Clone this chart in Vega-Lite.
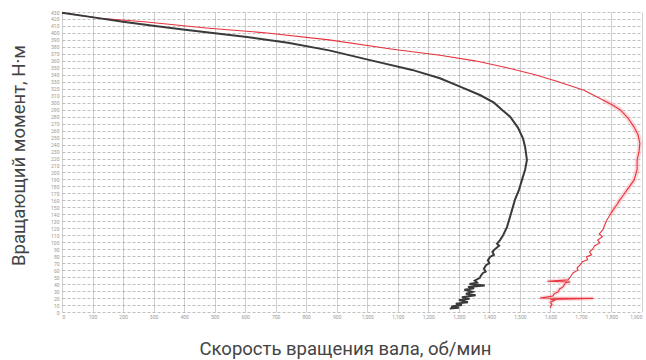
{
  "$schema": "https://vega.github.io/schema/vega-lite/v6.json",
  "width": 580,
  "height": 300,
  "autosize": "none",
  "padding": {"left": 62, "top": 12, "right": 4, "bottom": 48},
  "background": "white",
  "config": {"view": {"stroke": null}, "font": "Roboto"},
  "datasets": {
    "black": [
      {"i":1,"v":0,"t":429},{"i":2,"v":92,"t":423},{"i":3,"v":200,"t":416},{"i":4,"v":305,"t":410},{"i":5,"v":403,"t":404.5},
      {"i":6,"v":501,"t":399.5},{"i":7,"v":606,"t":394},{"i":8,"v":740,"t":386},{"i":9,"v":875,"t":375},{"i":10,"v":1009,"t":361},
      {"i":11,"v":1147,"t":347},{"i":12,"v":1238,"t":335},{"i":13,"v":1304,"t":323},{"i":14,"v":1369,"t":311},{"i":15,"v":1415,"t":300},
      {"i":16,"v":1441,"t":290},{"i":17,"v":1468,"t":280},{"i":18,"v":1494,"t":264},{"i":19,"v":1510,"t":249},{"i":20,"v":1517,"t":237},
      {"i":21,"v":1523,"t":218},{"i":22,"v":1517,"t":204},{"i":23,"v":1510,"t":194},{"i":24,"v":1497,"t":175},{"i":25,"v":1484,"t":161},
      {"i":26,"v":1474,"t":146},{"i":27,"v":1458,"t":122},{"i":28,"v":1445,"t":110},{"i":29,"v":1435,"t":103},{"i":30,"v":1425,"t":98},
      {"i":31,"v":1432,"t":95},{"i":32,"v":1418,"t":90},{"i":33,"v":1410,"t":86},{"i":34,"v":1415,"t":82},{"i":35,"v":1402,"t":79},
      {"i":36,"v":1395,"t":74},{"i":37,"v":1400,"t":70},{"i":38,"v":1389,"t":67},{"i":39,"v":1382,"t":62},{"i":40,"v":1388,"t":58},
      {"i":41,"v":1379,"t":56},{"i":42,"v":1372,"t":52},{"i":43,"v":1369,"t":49},{"i":44,"v":1352,"t":45},{"i":45,"v":1360,"t":42},
      {"i":46,"v":1335,"t":40},{"i":47,"v":1385,"t":38},{"i":48,"v":1330,"t":36},{"i":49,"v":1350,"t":34},{"i":50,"v":1318,"t":32},
      {"i":51,"v":1345,"t":29},{"i":52,"v":1323,"t":26},{"i":53,"v":1355,"t":24},{"i":54,"v":1310,"t":21},{"i":55,"v":1335,"t":19},
      {"i":56,"v":1300,"t":17},{"i":57,"v":1330,"t":14},{"i":58,"v":1290,"t":12},{"i":59,"v":1310,"t":10},{"i":60,"v":1275,"t":8},
      {"i":61,"v":1300,"t":6},{"i":62,"v":1270,"t":5}
    ],
    "red": [
      {"i":1,"v":0,"t":429},{"i":2,"v":124,"t":421},{"i":3,"v":269,"t":416},{"i":4,"v":472,"t":407},{"i":5,"v":672,"t":400},
      {"i":6,"v":875,"t":390},{"i":7,"v":1078,"t":377},{"i":8,"v":1238,"t":368},{"i":9,"v":1353,"t":360},{"i":10,"v":1458,"t":350},
      {"i":11,"v":1550,"t":340},{"i":12,"v":1618,"t":331},{"i":13,"v":1710,"t":318},{"i":14,"v":1772,"t":304},{"i":15,"v":1802,"t":297},
      {"i":16,"v":1828,"t":290},{"i":17,"v":1854,"t":278},{"i":18,"v":1874,"t":265},{"i":19,"v":1887,"t":254},{"i":20,"v":1893,"t":242},
      {"i":21,"v":1890,"t":229},{"i":22,"v":1884,"t":218},{"i":23,"v":1884,"t":204},{"i":24,"v":1874,"t":189},{"i":25,"v":1851,"t":175},
      {"i":26,"v":1840,"t":168},{"i":27,"v":1828,"t":161},{"i":28,"v":1818,"t":154},{"i":29,"v":1805,"t":146},{"i":30,"v":1795,"t":139},
      {"i":31,"v":1785,"t":132},{"i":32,"v":1778,"t":125},{"i":33,"v":1772,"t":118},{"i":34,"v":1760,"t":112},{"i":35,"v":1770,"t":108},
      {"i":36,"v":1755,"t":103},{"i":37,"v":1762,"t":99},{"i":38,"v":1745,"t":95},{"i":39,"v":1738,"t":90},{"i":40,"v":1728,"t":86},
      {"i":41,"v":1735,"t":82},{"i":42,"v":1718,"t":79},{"i":43,"v":1722,"t":75},{"i":44,"v":1705,"t":72},{"i":45,"v":1698,"t":68},
      {"i":46,"v":1687,"t":63},{"i":47,"v":1690,"t":60},{"i":48,"v":1674,"t":56},{"i":49,"v":1668,"t":52},{"i":50,"v":1658,"t":46},
      {"i":51,"v":1590,"t":44},{"i":52,"v":1665,"t":43},{"i":53,"v":1650,"t":42},{"i":54,"v":1641,"t":36},{"i":55,"v":1630,"t":33},
      {"i":56,"v":1625,"t":29},{"i":57,"v":1612,"t":26},{"i":58,"v":1608,"t":23},{"i":59,"v":1566,"t":20},{"i":60,"v":1740,"t":19.5},
      {"i":61,"v":1600,"t":18},{"i":62,"v":1615,"t":17},{"i":63,"v":1600,"t":14},{"i":64,"v":1605,"t":11},{"i":65,"v":1599,"t":6}
    ]
  },
  "encoding": {
    "x": {
      "field": "v", "type": "quantitative",
      "scale": {"domain": [0, 1900], "nice": false, "zero": false},
      "axis": {
        "title": "Скорость вращения вала, об/мин",
        "titleFontSize": 18.5, "titleFontWeight": "normal", "titleColor": "#444",
        "titleX": 283, "titleY": 36, "titleBaseline": "middle", "titleAlign": "center",
        "values": [0,100,200,300,400,500,600,700,800,900,1000,1100,1200,1300,1400,1500,1600,1700,1800,1900],
        "labelFontSize": 5, "labelColor": "#999", "labelPadding": 2,
        "ticks": false, "domain": false,
        "grid": true, "gridColor": "#cfcfcf", "gridWidth": 1
      }
    },
    "y": {
      "field": "t", "type": "quantitative",
      "scale": {"domain": [0, 430], "nice": false, "zero": false},
      "axis": {
        "title": "Вращающий момент, Н·м",
        "titleFontSize": 18.5, "titleFontWeight": "normal", "titleColor": "#444",
        "titleX": -44, "titleY": 143, "titleBaseline": "middle", "titleAlign": "center", "titleAngle": -90,
        "values": [0,10,20,30,40,50,60,70,80,90,100,110,120,130,140,150,160,170,180,190,200,210,220,230,240,250,260,270,280,290,300,310,320,330,340,350,360,370,380,390,400,410,420,430],
        "labelFontSize": 5, "labelColor": "#999", "labelPadding": 3,
        "ticks": false, "domain": false,
        "grid": true, "gridColor": "#8a8a8a", "gridDash": [3, 2], "gridOpacity": 0.55, "gridWidth": 1
      }
    },
    "order": {"field": "i", "type": "quantitative"}
  },
  "layer": [
    {"data": {"name": "red"}, "transform": [{"filter": "datum.i >= 14 && datum.i <= 30"}], "mark": {"type": "line", "color": "#f4a0a8", "strokeWidth": 5, "opacity": 0.4}},
    {"data": {"name": "red"}, "transform": [{"filter": "datum.i >= 50"}], "mark": {"type": "line", "color": "#f4a0a8", "strokeWidth": 4, "opacity": 0.35}},
    {"data": {"name": "red"}, "mark": {"type": "line", "color": "#e8323c", "strokeWidth": 1.1}},
    {"data": {"name": "black"}, "mark": {"type": "line", "color": "#3a3a3a", "strokeWidth": 2}}
  ]
}
